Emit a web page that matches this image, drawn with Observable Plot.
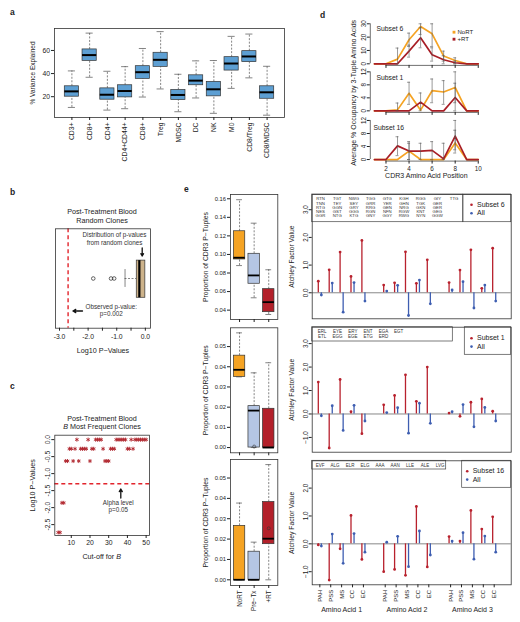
<!DOCTYPE html>
<html><head><meta charset="utf-8">
<script src="https://cdn.jsdelivr.net/npm/d3@7"></script>
<script src="https://cdn.jsdelivr.net/npm/@observablehq/plot@0.6"></script>
<style>
body{margin:0;background:#fff;}
#root{position:relative;width:520px;height:622px;overflow:hidden;font-family:"Liberation Sans",Arial,Helvetica,sans-serif;color:#222;background:#fff;}
.t{position:absolute;white-space:nowrap;line-height:1;}
</style></head><body><div id="root"></div>
<script>
// ---------------- DATA ----------------
// Panel a: % variance explained (five-number summaries)
const aCats = ["CD3+","CD8+","CD4+","CD4+CD44+","CD8+","Treg","MDSC","DC","NK","M0","CD8/Treg","CD8/MDSC"];
const aLow  = [10.7,36.8, 8.4, 9.6,19.7,26.7, 7.0,18.9, 5.6,27.2,36.3, 4.0];
const aQ1   = [20.0,51.0,17.4,19.4,35.4,45.8,17.1,29.9,20.3,42.6,49.9,18.2];
const aMed  = [24.6,56.0,21.7,24.9,41.2,51.9,21.5,33.9,26.4,48.7,54.8,23.8];
const aQ3   = [29.0,60.9,27.2,29.9,46.4,58.0,25.8,38.5,32.8,54.2,59.4,29.0];
const aHigh = [42.3,75.0,42.0,46.0,61.7,76.3,39.4,51.0,51.3,72.2,74.2,46.3];

// Panel b: random-clone log10 p-values
const bLow = -0.71, bQ1 = -0.30, bMed = -0.21, bQ3 = 0.0;
const bOutliers = [-1.82, -1.20, -1.09];
const bObserved = -2.70;
const bTicks = [-3.0,-2.5,-2.0,-1.5,-1.0,-0.5,0.0];

// Panel c: B most frequent clones
const cB = [3,4,5,6,7,8,9,10,11,12,13,14,15,16,17,18,19,20,21,22,23,24,25,26,27,28,29,30,31,32,33,34,35,36,37,38,39,40,41,42,43,44,45,46,47,48,49,50];
const cP = [-2.73,-2.73,-1.86,-1.86,-0.63,-0.63,-0.27,-0.27,-0.63,-0.27,0,-0.63,-0.27,-0.27,-0.27,-0.27,0,-0.63,-0.27,-0.27,0,0,0,0,-0.27,-0.63,-0.63,-0.63,-0.27,-0.27,-0.27,0,0,0,0,0,0,-0.27,-0.27,0,-0.27,0,0,0,0,0,0,0];
const cAlpha = -1.30;
const cYTicks = [-2.5,-2.0,-1.5,-1.0,-0.5,0.0];
const cXTicks = [10,20,30,40,50];

// Panel d: % occupancy by CDR3 position
const dPos = [1,2,3,4,5,6,7,8,9,10];
const dXTicks = [2,4,6,8,10];
const s6NoRT = [0,0,3.5,18,28,22.5,5.8,2.5,0,0];
const s6RT   = [0,0,0,9.5,19.5,6.8,3,0.8,0,0];
const s6NoRTLo = [null,null,0,13,22,13,2,0,null,null];
const s6NoRTHi = [null,null,11.8,23,30,30,9.5,4.5,null,null];
const s6RTLo = [null,null,null,5,12,2,0,0,null,null];
const s6RTHi = [null,null,null,14,27,12,6,2,null,null];
const s1NoRT = [0,0,0.3,5.4,0.2,6.2,5.8,7.2,0,0];
const s1RT   = [0,0,0,0,2.7,0,0,4.1,0,0];
const s1NoRTLo = [null,null,0,2,null,2.5,2,2.5,null,null];
const s1NoRTHi = [null,null,2.4,8.8,null,9.8,9.3,12,null,null];
const s1RTLo = [null,null,null,null,0,null,null,0,null,null];
const s1RTHi = [null,null,null,null,5.5,null,null,8.5,null,null];
const s16NoRT = [0,0,0,2.6,0,0,0,5.1,0,0];
const s16RT   = [0,0,4.2,2.6,2.6,2.8,0.2,7.2,0,0];
const s16NoRTLo = [null,null,null,0,null,null,null,2,null,null];
const s16NoRTHi = [null,null,null,5.5,null,null,null,9,null,null];
const s16RTLo = [null,null,1.2,0,0,0,0,3,null,null];
const s16RTHi = [null,null,7,5,5,5.5,5,12,null,null];

// Panel e (left): proportion of CDR3 P-tuples
const eGroups = ["NoRT","Pre\u2212Tx","+RT"];
const e6Low=[0.088,0.0533,0.0353], e6Q1=[0.0946,0.0684,0.0378], e6Med=[0.0965,0.0774,0.0486], e6Q3=[0.125,0.1007,0.0626], e6High=[0.159,0.1337,0.0835], e6Out=[];
const e1Low=[0.035,0,0], e1Q1=[0.035,0,0], e1Med=[0.0385,0.0183,0], e1Q3=[0.0455,0.0205,0.0192], e1High=[0.0568,0.037,0.042], e1Out=[[1,0.0005]];
const e16Low=[0,0,0], e16Q1=[0,0,0.0175], e16Med=[0,0,0.0202], e16Q3=[0.0265,0.0138,0.0382], e16High=[0.0377,0.0185,0.0566], e16Out=[[2,0.0253]];

// Panel e (right): Atchley factor values
const factors = ["PAH","PSS","MS","CC","EC"];
const aaGroups = ["Amino Acid 1","Amino Acid 2","Amino Acid 3"];
const allVals   = [-0.08,0.35,-0.70,0.37,-0.30, 0.06,0.27,-0.82,0.46,-0.40, 0.10,0.40,-0.55,0.28,-0.30];
const sub6Vals  = [0.42,0.83,1.47,0.59,1.89, 0.28,0.36,1.48,0.34,1.19, 0.37,0.82,1.55,0.16,1.61];
const sub1Vals  = [1.36,-1.45,1.47,0.10,-0.84, 0.39,0.79,1.67,0.54,2.00, 0.04,-0.10,0.50,0.64,0.12];
const sub16Vals = [-0.04,-1.30,-0.18,1.02,-0.56, -1.00,-0.92,-1.13,1.34,-0.83, 0.26,0.10,1.20,0.53,0.97];
const sub6Tuples = [["RTN","TGT","NWG","TGG","GTG","KGH","RGG","GIY","TTG"],["TNN","TEY","SEY","GRR","YER","GHN","TGK","GER"],["RTG","GGN","GRY","RRG","GEN","NRG","GKN","GER"],["NES","GST","GGG","RGN","NFN","RGW","KNT","GEG"],["GGR","NTG","KTG","GNY","GGY","RWG","NYN","GGW"]];
const sub1Tuples = [["ERL","EYE","ERY","ENT","EGA","EGT"],["ETL","EGG","EGE","ETG","ERD"]];
const sub16Tuples = [["EVF","ALG","ELR","ELG","AAA","AAN","LLE","ALE","LVG"]];

// ---------------- HELPERS ----------------
const FONT = '"Liberation Sans", Arial, Helvetica, sans-serif';
const W = 520, H = 622;
const root = document.getElementById("root");
const inv = (d0, d1, r0, r1) => p => d0 + (p - r0) / (r1 - r0) * (d1 - d0);
const ORANGE = "#f5a323", RED = "#a81e26", LBLUE = "#b5c6e4", BRED = "#b3202a";
const LRED = "#b8212d", LBLU = "#3e5eb1";

function panel({frame, xDomain, yDomain, xAxis = false, yAxis = false, marks}) {
  const [x0, x1, y0, y1] = frame;
  const svg = Plot.plot({
    width: W, height: H,
    marginLeft: x0, marginRight: W - x1, marginTop: y0, marginBottom: H - y1,
    x: xAxis ? {domain: xDomain, label: null} : {domain: xDomain, axis: null, label: null},
    y: yAxis ? {domain: yDomain, label: null} : {domain: yDomain, axis: null, label: null},
    color: {type: "identity"},
    style: {position: "absolute", left: "0px", top: "0px", background: "transparent", fontFamily: FONT, fontSize: "6.8px", color: "#222", overflow: "visible"},
    marks
  });
  root.appendChild(svg);
}
function html(content, cx, cy, size, opts = {}) {
  const d = document.createElement("div");
  d.className = "t";
  d.innerHTML = content;
  d.style.fontSize = size + "px";
  d.style.left = cx + "px";
  d.style.top = cy + "px";
  const tx = opts.anchor === "start" ? "0" : "-50%";
  d.style.transform = `translate(${tx},-50%)`;
  if (opts.bold) d.style.fontWeight = "bold";
  root.appendChild(d);
}
const dash = "2,1.5";

// ---------------- PANEL a ----------------
{
  const rows = aCats.map((c, i) => ({i: i + 1, low: aLow[i], q1: aQ1[i], med: aMed[i], q3: aQ3[i], high: aHigh[i]}));
  panel({frame: [54, 284, 28, 117], xDomain: [0.02, 12.98], yDomain: [2, 79], xAxis: true, yAxis: true, marks: [
    Plot.ruleX(rows, {x: "i", y1: "low", y2: "q1", stroke: "#333", strokeWidth: 0.6, strokeDasharray: dash}),
    Plot.ruleX(rows, {x: "i", y1: "q3", y2: "high", stroke: "#333", strokeWidth: 0.6, strokeDasharray: dash}),
    Plot.ruleY(rows, {y: "low", x1: d => d.i - 0.2, x2: d => d.i + 0.2, stroke: "#333", strokeWidth: 0.6}),
    Plot.ruleY(rows, {y: "high", x1: d => d.i - 0.2, x2: d => d.i + 0.2, stroke: "#333", strokeWidth: 0.6}),
    Plot.rect(rows, {x1: d => d.i - 0.4, x2: d => d.i + 0.4, y1: "q1", y2: "q3", fill: "#5d9fd3", stroke: "#333", strokeWidth: 0.7}),
    Plot.ruleY(rows, {y: "med", x1: d => d.i - 0.4, x2: d => d.i + 0.4, stroke: "#000", strokeWidth: 2}),
    Plot.frame({stroke: "#333", strokeWidth: 0.8}),
    Plot.axisY({ticks: [20, 40, 60], tickSize: 3, tickPadding: 1.5, label: null, fontSize: 6.8}),
    Plot.axisX({ticks: rows.map(d => d.i), tickFormat: i => aCats[i - 1], tickRotate: -90, tickSize: 3, tickPadding: 2, label: null, fontSize: 6.8}),
    Plot.text(["% Variance Explained"], {text: d => d, frameAnchor: "left", dx: -22, rotate: -90, textAnchor: "middle", lineAnchor: "middle", fontSize: 6.5})
  ]});
}

// ---------------- PANEL b ----------------
{
  const fr = [55, 150, 228.3, 327.7], xd = [-3.14, 0.18], yd = [0, 1];
  const X = inv(xd[0], xd[1], fr[0], fr[1]), Y = inv(yd[0], yd[1], fr[3], fr[2]);
  panel({frame: fr, xDomain: xd, yDomain: yd, xAxis: true, marks: [
    Plot.ruleX([bObserved], {x: d => d, stroke: "#e2242c", strokeWidth: 1.4, strokeDasharray: "4,3"}),
    Plot.ruleY([0.5], {y: d => d, x1: bLow, x2: bQ1, stroke: "#333", strokeWidth: 0.6, strokeDasharray: dash}),
    Plot.ruleX([bLow], {x: d => d, y1: 0.41, y2: 0.59, stroke: "#333", strokeWidth: 0.6}),
    Plot.rect([0], {x1: bQ1, x2: bQ3, y1: 0.306, y2: 0.68, fill: "#cdb38b", stroke: "#333", strokeWidth: 0.7}),
    Plot.ruleX([bMed], {x: d => d, y1: 0.306, y2: 0.68, stroke: "#000", strokeWidth: 2.2}),
    Plot.dot(bOutliers, {x: d => d, y: 0.5, r: 1.8, stroke: "#222", strokeWidth: 0.7}),
    Plot.text(["Distribution of p-values", "from random clones"], {text: d => d, x: X(114), y: (d, i) => Y(234.3 + i * 7.7), fontSize: 6.3, fill: "#333"}),
    Plot.arrow([0], {x1: X(141.7), x2: X(141.7), y1: Y(247.5), y2: Y(255.5), stroke: "#111", strokeWidth: 1.3, headLength: 4}),
    Plot.text(["Observed p-value:", "p=0.002"], {text: d => d, x: X(110.7), y: (d, i) => Y(306 + i * 7.3), fontSize: 6.3, fill: "#333"}),
    Plot.arrow([0], {x1: X(82), x2: X(72.5), y1: Y(310.5), y2: Y(310.5), stroke: "#111", strokeWidth: 1.3, headLength: 4}),
    Plot.frame({stroke: "#333", strokeWidth: 0.8}),
    Plot.axisX({ticks: bTicks, tickFormat: d => Number.isInteger(d) ? d.toFixed(1) : "", tickSize: 3, tickPadding: 2.5, label: null, fontSize: 6.8}),
    Plot.text(["Log10 P\u2212Values"], {text: d => d, frameAnchor: "bottom", dy: 22.5, lineAnchor: "middle", textAnchor: "middle", fontSize: 7.2})
  ]});
  html("Post-Treatment Blood", 102, 212.3, 7.2);
  html("Random Clones", 102, 220.5, 7.2);
}

// ---------------- PANEL c ----------------
{
  const fr = [54.3, 149, 434.7, 535], xd = [1.2, 51.8], yd = [-2.82, 0.13];
  const X = inv(xd[0], xd[1], fr[0], fr[1]), Y = inv(yd[0], yd[1], fr[3], fr[2]);
  const rows = cB.map((b, i) => ({b, p: cP[i]}));
  panel({frame: fr, xDomain: xd, yDomain: yd, xAxis: true, yAxis: true, marks: [
    Plot.ruleY([cAlpha], {y: d => d, stroke: "#e2242c", strokeWidth: 1.4, strokeDasharray: "4,3"}),
    Plot.dot(rows, {x: "b", y: "p", symbol: "asterisk", r: 1.9, stroke: "#b0252d", strokeWidth: 0.9}),
    Plot.arrow([0], {x1: X(120.3), x2: X(120.3), y1: Y(497.5), y2: Y(488.5), stroke: "#111", strokeWidth: 1.3, headLength: 4}),
    Plot.text(["Alpha level", "p=0.05"], {text: d => d, x: X(117.7), y: (d, i) => Y(502.3 + i * 7), fontSize: 6.3, fill: "#333"}),
    Plot.frame({stroke: "#333", strokeWidth: 0.8}),
    Plot.axisY({ticks: cYTicks, tickFormat: d => d.toFixed(1), tickRotate: -90, tickSize: 3, tickPadding: 1.5, label: null, fontSize: 6.8}),
    Plot.axisX({ticks: cXTicks, tickSize: 3, tickPadding: 2, label: null, fontSize: 6.8}),
    Plot.text(["Log10 P\u2212Values"], {text: d => d, frameAnchor: "left", dx: -22.6, rotate: -90, textAnchor: "middle", lineAnchor: "middle", fontSize: 7.2})
  ]});
  html("Post-Treatment Blood", 102, 419, 7.2);
  html("<i>B</i> Most Frequent Clones", 102, 427.3, 7.2);
  html("Cut-off for <i>B</i>", 101.7, 556.7, 7.2);
}

// ---------------- PANEL d ----------------
function dPanel(fr, yd, yTicks, noRT, rt, nLo, nHi, rLo, rHi, showX, extra) {
  const xd = [0.64, 10.36];
  const err = [];
  dPos.forEach((p, i) => {
    if (nLo[i] != null) err.push({x: p, lo: nLo[i], hi: nHi[i]});
    if (rLo[i] != null) err.push({x: p, lo: rLo[i], hi: rHi[i]});
  });
  const nRows = dPos.map((p, i) => ({x: p, v: noRT[i]}));
  const rRows = dPos.map((p, i) => ({x: p, v: rt[i]}));
  const X = inv(xd[0], xd[1], fr[0], fr[1]), Y = inv(yd[0], yd[1], fr[3], fr[2]);
  panel({frame: fr, xDomain: xd, yDomain: yd, xAxis: true, yAxis: true, marks: [
    Plot.line(nRows, {x: "x", y: "v", stroke: ORANGE, strokeWidth: 1.7}),
    Plot.line(rRows, {x: "x", y: "v", stroke: RED, strokeWidth: 1.7}),
    Plot.ruleX(err, {x: "x", y1: "lo", y2: "hi", stroke: "#555", strokeWidth: 0.6}),
    Plot.ruleY(err, {y: "lo", x1: d => d.x - 0.13, x2: d => d.x + 0.13, stroke: "#555", strokeWidth: 0.6}),
    Plot.ruleY(err, {y: "hi", x1: d => d.x - 0.13, x2: d => d.x + 0.13, stroke: "#555", strokeWidth: 0.6}),
    Plot.ruleX([xd[0]], {x: d => d, y1: yTicks[0], y2: yTicks[yTicks.length - 1], stroke: "#333", strokeWidth: 0.7}),
    Plot.axisY({ticks: yTicks, tickRotate: -90, tickSize: 3, tickPadding: 1.5, label: null, fontSize: 6.3}),
    Plot.ruleY([yd[0]], {y: d => d, x1: dXTicks[0], x2: dXTicks[dXTicks.length - 1], stroke: "#333", strokeWidth: 0.7}),
    Plot.axisX({ticks: dXTicks, tickFormat: showX ? (d => d) : (() => ""), tickSize: 3, tickPadding: 2, label: null, fontSize: 6.3}),
    ...extra(X, Y)
  ]});
}
dPanel([369.8, 481.9, 21.7, 64.9], [-1.2, 31.2], [0, 10, 20, 30], s6NoRT, s6RT, s6NoRTLo, s6NoRTHi, s6RTLo, s6RTHi, false, (X, Y) => [
  Plot.text(["Subset 6"], {text: d => d, x: X(376), y: Y(28.3), textAnchor: "start", fontSize: 6.8}),
  Plot.dot(["NoRT", "+RT"], {x: X(453.5), y: (d, i) => Y(31.7 + i * 7), symbol: "square", r: 1.6, fill: (d, i) => i ? RED : ORANGE}),
  Plot.text(["NoRT", "+RT"], {text: d => d, x: X(457), y: (d, i) => Y(31.7 + i * 7), textAnchor: "start", fontSize: 6})
]);
dPanel([369.8, 481.9, 69.8, 111.9], [-0.48, 12.48], [0, 4, 8, 12], s1NoRT, s1RT, s1NoRTLo, s1NoRTHi, s1RTLo, s1RTHi, false, (X, Y) => [
  Plot.text(["Subset 1"], {text: d => d, x: X(376), y: Y(77.7), textAnchor: "start", fontSize: 6.8}),
  Plot.text(["Average % Occupancy by 3-Tuple Amino Acids"], {text: d => d, frameAnchor: "left", dx: -17, dy: 1.5, rotate: -90, textAnchor: "middle", lineAnchor: "middle", fontSize: 7})
]);
dPanel([369.8, 481.9, 118.4, 160.6], [-0.48, 12.48], [0, 4, 8, 12], s16NoRT, s16RT, s16NoRTLo, s16NoRTHi, s16RTLo, s16RTHi, true, (X, Y) => [
  Plot.text(["Subset 16"], {text: d => d, x: X(373), y: Y(127), textAnchor: "start", fontSize: 6.8}),
  Plot.text(["CDR3 Amino Acid Position"], {text: d => d, frameAnchor: "bottom", dy: 15, lineAnchor: "middle", textAnchor: "middle", fontSize: 7})
]);

// ---------------- PANEL e (boxplots) ----------------
function eBox(fr, yd, yTicks, low, q1, med, q3, high, outs, showX) {
  const fills = [ORANGE, LBLUE, BRED];
  const rows = eGroups.map((g, i) => ({i: i + 1, low: low[i], q1: q1[i], med: med[i], q3: q3[i], high: high[i], fill: fills[i]}));
  const o = outs.map(([g, v]) => ({i: g + 1, v}));
  panel({frame: fr, xDomain: [0.38, 3.62], yDomain: yd, xAxis: true, yAxis: true, marks: [
    Plot.ruleX(rows, {x: "i", y1: "low", y2: "q1", stroke: "#333", strokeWidth: 0.6, strokeDasharray: dash}),
    Plot.ruleX(rows, {x: "i", y1: "q3", y2: "high", stroke: "#333", strokeWidth: 0.6, strokeDasharray: dash}),
    Plot.ruleY(rows, {y: "low", x1: d => d.i - 0.2, x2: d => d.i + 0.2, stroke: "#333", strokeWidth: 0.6}),
    Plot.ruleY(rows, {y: "high", x1: d => d.i - 0.2, x2: d => d.i + 0.2, stroke: "#333", strokeWidth: 0.6}),
    Plot.rect(rows, {x1: d => d.i - 0.39, x2: d => d.i + 0.39, y1: "q1", y2: "q3", fill: "fill", stroke: "#333", strokeWidth: 0.7}),
    Plot.ruleY(rows, {y: "med", x1: d => d.i - 0.39, x2: d => d.i + 0.39, stroke: "#000", strokeWidth: 1.8}),
    Plot.dot(o, {x: "i", y: "v", r: 1.5, stroke: "#333", strokeWidth: 0.6}),
    Plot.frame({stroke: "#333", strokeWidth: 0.8}),
    Plot.axisY({ticks: yTicks, tickFormat: d => d.toFixed(2), tickSize: 3, tickPadding: 1.5, label: null, fontSize: 5.8}),
    Plot.axisX({ticks: [1, 2, 3], tickFormat: showX ? (i => eGroups[i - 1]) : (() => ""), tickRotate: -90, tickSize: 3, tickPadding: 2, label: null, fontSize: 6.3}),
    Plot.text(["Proportion of CDR3 P\u2212Tuples"], {text: d => d, frameAnchor: "left", dx: -25, rotate: -90, textAnchor: "middle", lineAnchor: "middle", fontSize: 6.8})
  ]});
}
eBox([230, 277.3, 194, 319], [0.0299, 0.1646], [0.04, 0.06, 0.08, 0.10, 0.12, 0.14, 0.16], e6Low, e6Q1, e6Med, e6Q3, e6High, e6Out, false);
eBox([230, 277.3, 327.3, 452.3], [-0.0026, 0.0593], [0, 0.01, 0.02, 0.03, 0.04, 0.05], e1Low, e1Q1, e1Med, e1Q3, e1High, e1Out, false);
eBox([230, 277.3, 459, 585], [-0.0028, 0.0591], [0, 0.01, 0.02, 0.03, 0.04, 0.05], e16Low, e16Q1, e16Med, e16Q3, e16High, e16Out, true);

// ---------------- PANEL e (lollipops) ----------------
function lolli(fr, yd, yTicks, sub, subName, tuples, tb, leg, showX) {
  const xd = [-0.7, 17.56];
  const X = inv(xd[0], xd[1], fr[0], fr[1]), Y = inv(yd[0], yd[1], fr[3], fr[2]);
  const subRows = sub.map((v, i) => ({x: Math.floor(i / 5) * 6 + (i % 5) - 0.14, v}));
  const allRows = allVals.map((v, i) => ({x: Math.floor(i / 5) * 6 + (i % 5) + 0.14, v}));
  const cells = [];
  tuples.forEach((row, r) => row.forEach((t, c) => cells.push({t, px: tb.cx0 + c * tb.dx, py: tb.ry0 + r * tb.dy})));
  const pos = [];
  for (let g = 0; g < 3; g++) for (let f = 0; f < 5; f++) pos.push(g * 6 + f);
  panel({frame: fr, xDomain: xd, yDomain: yd, xAxis: showX, yAxis: true, marks: [
    Plot.ruleY([0], {y: d => d, stroke: "#555", strokeWidth: 0.7}),
    Plot.ruleX(subRows, {x: "x", y1: 0, y2: "v", stroke: LRED, strokeWidth: 1.3}),
    Plot.dot(subRows, {x: "x", y: "v", r: 1.4, fill: LRED}),
    Plot.ruleX(allRows, {x: "x", y1: 0, y2: "v", stroke: LBLU, strokeWidth: 1.3}),
    Plot.dot(allRows, {x: "x", y: "v", r: 1.4, fill: LBLU}),
    Plot.rect([0], {x1: xd[0], x2: X(tb.right), y1: yd[1], y2: Y(tb.bottom), fill: "white", stroke: "#444", strokeWidth: 0.7}),
    Plot.text(cells, {text: "t", x: d => X(d.px), y: d => Y(d.py), fontSize: tb.size, fill: "#333"}),
    Plot.rect([0], {x1: X(leg.left), x2: xd[1], y1: yd[1], y2: Y(leg.bottom), fill: "white", stroke: "#444", strokeWidth: 0.7}),
    Plot.dot([subName, "All"], {x: X(leg.dot), y: (d, i) => Y(leg.y0 + i * 8.4), r: 1.3, fill: (d, i) => i ? LBLU : LRED}),
    Plot.text([subName, "All"], {text: d => d, x: X(leg.dot + 5.5), y: (d, i) => Y(leg.y0 + i * 8.4), textAnchor: "start", fontSize: 7}),
    Plot.frame({stroke: "#333", strokeWidth: 0.8}),
    Plot.axisY({ticks: yTicks, tickRotate: -90, tickSize: 3, tickPadding: 1.5, label: null, fontSize: 6.3}),
    ...(showX ? [
      Plot.axisX({ticks: pos, tickFormat: p => factors[p % 6], tickRotate: -90, tickSize: 3, tickPadding: 2, label: null, fontSize: 6}),
      Plot.text(aaGroups, {text: d => d, x: (d, i) => i * 6 + 2, frameAnchor: "bottom", dy: 24.7, lineAnchor: "middle", textAnchor: "middle", fontSize: 7})
    ] : []),
    Plot.text(["Atchley Factor Value"], {text: d => d, frameAnchor: "left", dx: -20, rotate: -90, textAnchor: "middle", lineAnchor: "middle", fontSize: 6.8})
  ]});
}
lolli([311.7, 510.7, 194, 318.3], [-0.94, 3.55], [0, 1, 2, 3], sub6Vals, "Subset 6", sub6Tuples,
  {cx0: 320, dx: 16.7, ry0: 198.6, dy: 4.25, right: 462.7, bottom: 221.7, size: 4.3},
  {left: 463, bottom: 221.7, dot: 471, y0: 204.3}, false);
lolli([311.7, 510.7, 326.7, 451.7], [-1.63, 3.7], [-1, 0, 1, 2, 3], sub1Vals, "Subset 1", sub1Tuples,
  {cx0: 321.7, dx: 15.3, ry0: 331.2, dy: 5, right: 452.3, bottom: 341, size: 4.5},
  {left: 464.3, bottom: 354.3, dot: 471, y0: 337.7}, false);
lolli([311.7, 510.7, 460.3, 584.3], [-1.47, 2.98], [-1, 0, 1, 2], sub16Vals, "Subset 16", sub16Tuples,
  {cx0: 319.6, dx: 15, ry0: 464.8, dy: 5, right: 445.7, bottom: 469, size: 4.5},
  {left: 461.7, bottom: 487.3, dot: 466.7, y0: 470.7}, true);

// ---------------- PANEL LETTERS ----------------
html("a", 10, 12, 8.5, {anchor: "start", bold: true});
html("b", 10, 192, 8.5, {anchor: "start", bold: true});
html("c", 10, 386, 8.5, {anchor: "start", bold: true});
html("d", 320, 15, 8.5, {anchor: "start", bold: true});
html("e", 184, 189, 8.5, {anchor: "start", bold: true});
</script></body></html>
